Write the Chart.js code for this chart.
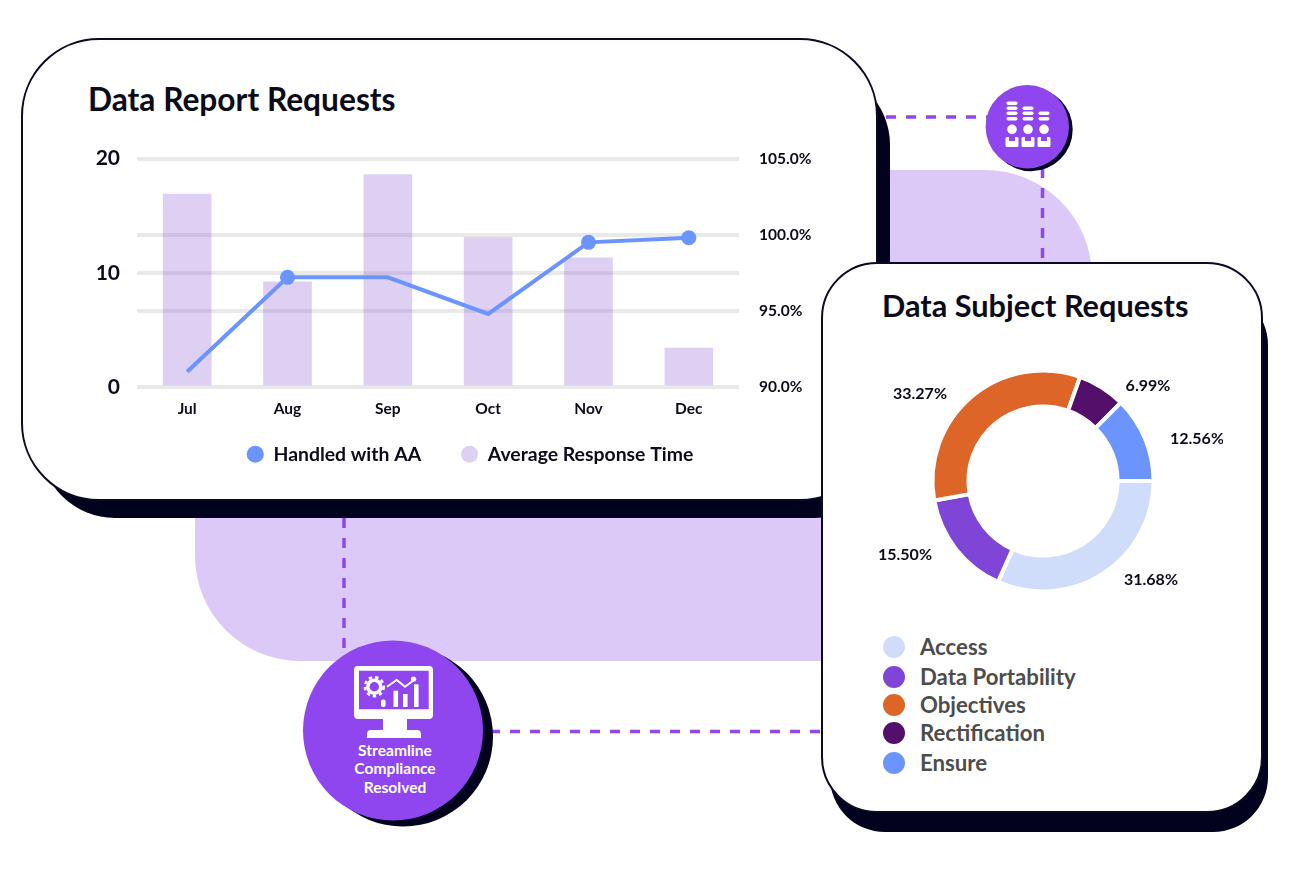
<!DOCTYPE html>
<html>
<head>
<meta charset="utf-8">
<title>Data Requests</title>
<script src="https://cdn.jsdelivr.net/npm/chart.js@4"></script>
<style>
  html, body { margin: 0; padding: 0; background: #fff; }
  body { width: 1290px; height: 873px; position: relative; overflow: hidden; font-family: "Lato", "Noto Sans", sans-serif; color: #0b0b1a; }
  .abs { position: absolute; box-sizing: border-box; }
  .shadow { background: #02021f; }
  .card { background: #fff; border: 2px solid #0a0a23; }
  .title { font-weight: 700; line-height: 40px; white-space: nowrap; }
  #subjectLegend div { position: absolute; left: 0; white-space: nowrap; font-size: 22.2px; font-weight: 700; color: #4d4d4d; line-height: 24px; }
  #subjectLegend i { position: absolute; left: 0; top: 1px; width: 22px; height: 22px; border-radius: 50%; }
  #subjectLegend span { position: absolute; left: 37px; top: 0; }
  canvas { position: absolute; }
</style>
</head>
<body>

<svg class="abs" style="left:0;top:0" width="1290" height="873">
  <path d="M195 170 H985 A107 107 0 0 1 1092 277 V661 H300 A105 105 0 0 1 195 556 Z" fill="#ddc9f8"/>
  <g stroke="#8f46ef" stroke-width="3.5" stroke-dasharray="10 10" fill="none">
    <line x1="886" y1="117" x2="990" y2="117"/>
    <line x1="1042.5" y1="168" x2="1042.5" y2="264"/>
    <line x1="344" y1="518" x2="344" y2="650"/>
    <line x1="490" y1="731.5" x2="824" y2="731.5"/>
  </g>

  <circle cx="1031" cy="129.5" r="41.7" fill="#02021f"/>
  <circle cx="1027.3" cy="126.7" r="41.7" fill="#8f46ef"/>
  <g fill="#fff">
    <rect x="1006.5" y="101.5" width="11" height="3.4" rx="1.7"/>
    <rect x="1006.5" y="106.5" width="11" height="3.4" rx="1.7"/>
    <rect x="1006.5" y="111.5" width="11" height="3.4" rx="1.7"/>
    <rect x="1006.5" y="117" width="11" height="3.4" rx="1.7"/>
    <rect x="1022.5" y="106.5" width="11" height="3.4" rx="1.7"/>
    <rect x="1022.5" y="111.5" width="11" height="3.4" rx="1.7"/>
    <rect x="1022.5" y="117" width="11" height="3.4" rx="1.7"/>
    <rect x="1038.5" y="111.5" width="11" height="3.4" rx="1.7"/>
    <rect x="1038.5" y="117" width="11" height="3.4" rx="1.7"/>
    <circle cx="1012" cy="129.3" r="4.8"/>
    <circle cx="1028" cy="129.3" r="4.8"/>
    <circle cx="1044" cy="129.3" r="4.8"/>
    <path d="M1005.5 138.5a1.5 1.5 0 0 1 1.5-1.5h2v4h6v-4h2a1.5 1.5 0 0 1 1.5 1.5v7a1.5 1.5 0 0 1-1.5 1.5h-10a1.5 1.5 0 0 1-1.5-1.5z"/>
    <path d="M1021.5 138.5a1.5 1.5 0 0 1 1.5-1.5h2v4h6v-4h2a1.5 1.5 0 0 1 1.5 1.5v7a1.5 1.5 0 0 1-1.5 1.5h-10a1.5 1.5 0 0 1-1.5-1.5z"/>
    <path d="M1037.5 138.5a1.5 1.5 0 0 1 1.5-1.5h2v4h6v-4h2a1.5 1.5 0 0 1 1.5 1.5v7a1.5 1.5 0 0 1-1.5 1.5h-10a1.5 1.5 0 0 1-1.5-1.5z"/>
  </g>

  <circle cx="403" cy="736.5" r="90" fill="#02021f"/>
  <circle cx="393" cy="730.5" r="90" fill="#8f46ef"/>
  <g fill="#fff">
    <path fill-rule="evenodd" d="M358 666 H429 a4 4 0 0 1 4 4 V715 a4 4 0 0 1 -4 4 H358 a4 4 0 0 1 -4 -4 V670 a4 4 0 0 1 4 -4 Z M359 670.7 V709.3 H428.7 V670.7 Z"/>
    <rect x="383" y="719" width="24" height="11"/>
    <path d="M367 738 v-4 a4 4 0 0 1 4 -4 h46 a4 4 0 0 1 4 4 v4 z"/>
    <rect x="381" y="699.5" width="4.6" height="7.5" rx="2"/>
    <rect x="393.5" y="690.7" width="4.6" height="16.3"/>
    <rect x="403" y="694" width="4.6" height="13"/>
    <rect x="414" y="684.3" width="4.6" height="22.7"/>
  </g>
  <circle cx="374.3" cy="686.7" r="6.5" fill="none" stroke="#fff" stroke-width="3.6"/>
  <circle cx="374.3" cy="686.7" r="9.4" fill="none" stroke="#fff" stroke-width="2.6" stroke-dasharray="3.4 3"/>
  <polyline points="387,686.7 396.7,680 405,686.7 416,678.5" fill="none" stroke="#fff" stroke-width="2"/>
  <circle cx="413.5" cy="679" r="2.6" fill="#fff"/>
  <g fill="#fff" font-family="Lato, sans-serif" font-size="15.6" font-weight="700" text-anchor="middle">
    <text x="395" y="756">Streamline</text>
    <text x="395" y="774">Compliance</text>
    <text x="395" y="793">Resolved</text>
  </g>
</svg>

<div class="abs shadow" style="left:40px;top:70px;width:850px;height:448px;border-radius:75px"></div>
<div class="abs card" style="left:21px;top:38px;width:857px;height:463px;border-radius:78px"></div>
<div class="abs title" style="left:88px;top:79px;font-size:31.7px">Data Report Requests</div>
<canvas id="reportChart" width="760" height="372" style="left:90px;top:129px"></canvas>

<div class="abs shadow" style="left:830px;top:290px;width:438px;height:542px;border-radius:55px"></div>
<div class="abs card" style="left:821px;top:262px;width:442px;height:551px;border-radius:56px"></div>
<div class="abs title" style="left:882px;top:286px;font-size:30.7px">Data Subject Requests</div>
<canvas id="subjectChart" width="360" height="260" style="left:862.5px;top:350.7px"></canvas>
<div class="abs" id="subjectLegend" style="left:883px;top:635px"></div>

<script>
const months = ["Jul", "Aug", "Sep", "Oct", "Nov", "Dec"];
const responseTime = [16.9, 9.2, 18.6, 13.1, 11.3, 3.4];
const handledWithAA = [91.0, 97.2, 97.2, 94.8, 99.5, 99.8];
const markedMonths = ["Aug", "Nov", "Dec"];

const requestTypes = ["Access", "Data Portability", "Objectives", "Rectification", "Ensure"];
const requestShares = [31.68, 15.50, 33.27, 6.99, 12.56];
const requestColors = ["#cfddfb", "#7e45d6", "#dd6527", "#540f6b", "#6b94ff"];

const FONT = "Lato, 'Noto Sans', sans-serif";
const INK = "#0b0b1a";
const GRID = "#e9e9e9";

Chart.defaults.font.family = FONT;
Chart.defaults.animation = false;

// share labels sit where the original put them, relative to the ring centre
const shareLabelOffsets = [[108, 99], [-138, 74], [-123, -87], [105, -95], [154, -42]];

const shareLabels = {
  id: "shareLabels",
  afterDatasetsDraw(chart) {
    const arc = chart.getDatasetMeta(0).data[0];
    const ctx = chart.ctx;
    ctx.save();
    ctx.font = `700 16px ${FONT}`;
    ctx.fillStyle = INK;
    ctx.textAlign = "center";
    ctx.textBaseline = "middle";
    requestShares.forEach((value, i) => {
      const [dx, dy] = shareLabelOffsets[i];
      ctx.fillText(`${value.toFixed(2)}%`, arc.x + dx, arc.y + dy);
    });
    ctx.restore();
  }
};

// the legend row sits closer to the month labels than chart.js leaves it
const raiseLegend = {
  id: "raiseLegend",
  afterLayout(chart) {
    chart.legend.top -= 27;
  }
};

function initReportChart() {
  new Chart(document.getElementById("reportChart"), {
    data: {
      labels: months,
      datasets: [
        {
          type: "line",
          label: "Handled with AA",
          data: handledWithAA,
          yAxisID: "y1",
          order: 1,
          borderColor: "#6b94ff",
          backgroundColor: "#6b94ff",
          borderWidth: 4,
          tension: 0,
          pointStyle: "circle",
          pointBorderWidth: 0,
          pointRadius: ctx => markedMonths.includes(months[ctx.dataIndex]) ? 7.5 : 0
        },
        {
          type: "bar",
          label: "Average Response Time",
          data: responseTime,
          yAxisID: "y",
          order: 2,
          backgroundColor: "rgba(145, 98, 215, 0.3)",
          barThickness: 48
        }
      ]
    },
    options: {
      responsive: false,
      layout: { padding: { top: 3, left: 0, right: 0, bottom: 0 } },
      scales: {
        x: {
          grid: { display: false, drawTicks: false },
          border: { display: false },
          ticks: { color: INK, padding: 13, font: { size: 15.5, weight: "700" }, maxRotation: 0 }
        },
        y: {
          position: "left",
          min: 0,
          max: 20,
          grid: { color: GRID, lineWidth: 4, drawTicks: false },
          border: { display: false },
          ticks: { stepSize: 10, color: INK, padding: 17, font: { size: 21, weight: "700" } },
          afterFit: axis => { axis.width = 47; }
        },
        y1: {
          position: "right",
          min: 90,
          max: 105,
          grid: { color: GRID, lineWidth: 4, drawTicks: false },
          border: { display: false },
          ticks: {
            stepSize: 5,
            color: INK,
            padding: 20,
            font: { size: 15.5, weight: "700" },
            callback: value => `${value.toFixed(1)}%`
          },
          afterFit: axis => { axis.width = 111; }
        }
      },
      plugins: {
        tooltip: { enabled: false },
        legend: {
          position: "bottom",
          labels: {
            usePointStyle: true,
            pointStyle: "circle",
            boxHeight: 12,
            pointStyleWidth: 17,
            padding: 40,
            color: INK,
            font: { size: 19.4, weight: "700" },
            generateLabels(chart) {
              return Chart.defaults.plugins.legend.labels.generateLabels(chart)
                .map(item => ({ ...item, lineWidth: 0 }));
            }
          }
        }
      }
    },
    plugins: [raiseLegend]
  });
}

function initSubjectChart() {
  new Chart(document.getElementById("subjectChart"), {
    type: "doughnut",
    data: {
      labels: requestTypes,
      datasets: [{
        data: requestShares,
        backgroundColor: requestColors,
        borderColor: "#fff",
        borderWidth: 4
      }]
    },
    options: {
      responsive: false,
      rotation: 90,
      radius: 110.5,
      cutout: "67.5%",
      plugins: { legend: { display: false }, tooltip: { enabled: false } }
    },
    plugins: [shareLabels]
  });
}

function renderSubjectLegend() {
  const legendRows = [0, 30, 58, 86, 116];
  document.getElementById("subjectLegend").innerHTML = requestTypes.map((name, i) => `
    <div style="top:${legendRows[i]}px"><i style="background:${requestColors[i]}"></i><span>${name}</span></div>
  `).join("");
}

initReportChart();
initSubjectChart();
renderSubjectLegend();
</script>
</body>
</html>
